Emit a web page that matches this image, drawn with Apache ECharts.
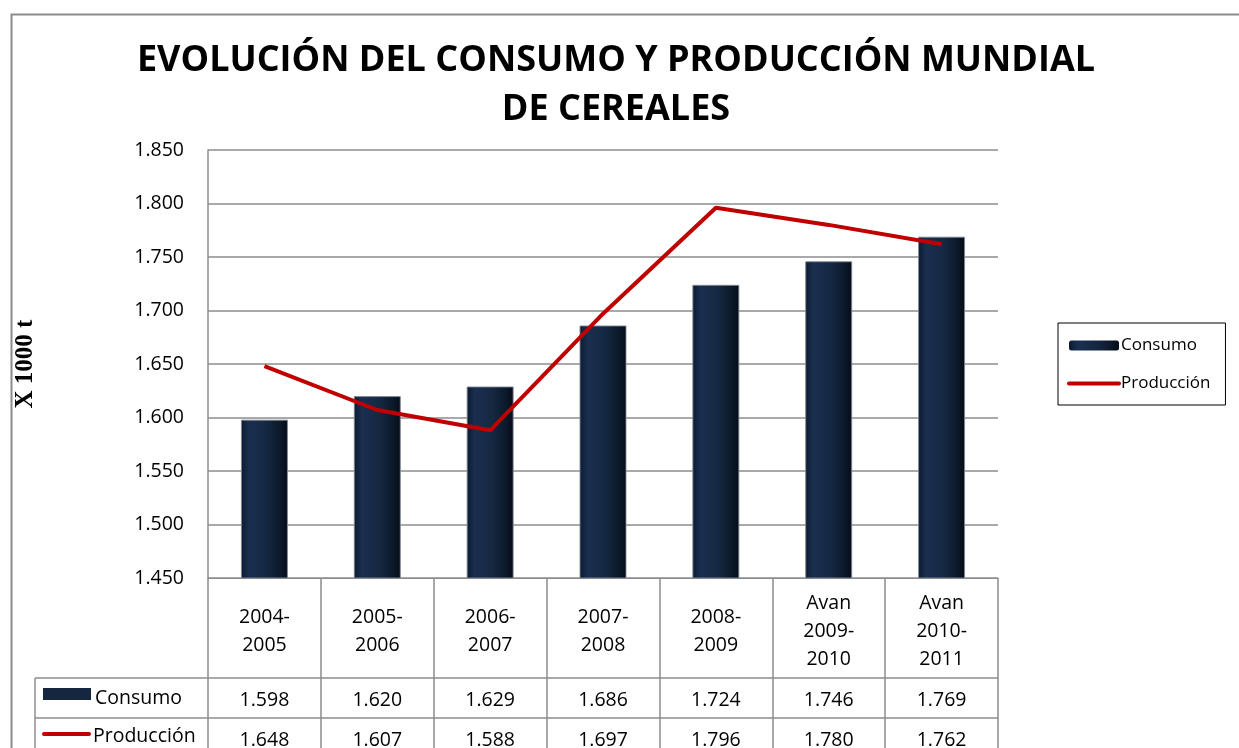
<!DOCTYPE html>
<html>
<head>
<meta charset="utf-8">
<script src="https://cdn.jsdelivr.net/npm/echarts@6/dist/echarts.min.js"></script>
<style>
  html, body { margin: 0; padding: 0; background: #fff; }
  #chart { width: 1239px; height: 748px; }
</style>
</head>
<body>
<div id="chart"></div>
<script>
// data
const categories = ['2004-\n2005', '2005-\n2006', '2006-\n2007', '2007-\n2008', '2008-\n2009', 'Avan\n2009-\n2010', 'Avan\n2010-\n2011']
const consumo = [1598, 1620, 1629, 1686, 1724, 1746, 1769]
const produccion = [1648, 1607, 1588, 1697, 1796, 1780, 1762]
const yTicks = { min: 1450, max: 1850, interval: 50 }

const GRID = { left: 208, top: 150, right: 998, bottom: 578 }
const TABLE_LEFT = 35
const FONT = "'Open Sans', 'Noto Sans', sans-serif"
const GRAY = '#8c8c8c'
const TXT = 19.5

function fmt(v) {
  // 1598 -> "1.598"
  return (v / 1000).toFixed(3)
}

const chart = echarts.init(document.getElementById('chart'))

const barColor = new echarts.graphic.LinearGradient(0, 0, 1, 0, [
  { offset: 0, color: '#0c1a30' },
  { offset: 0.18, color: '#1a2f50' },
  { offset: 0.55, color: '#152842' },
  { offset: 0.85, color: '#0b1829' },
  { offset: 1, color: '#050b15' }
])

// value axes for the two table rows (labels only)
function valueRowAxis(values, offset) {
  return {
    type: 'category',
    data: categories,
    position: 'bottom',
    offset: offset,
    axisLine: { show: false },
    axisTick: { show: false },
    axisLabel: {
      interval: 0,
      margin: 22,
      verticalAlign: 'middle',
      fontFamily: FONT,
      fontSize: TXT,
      color: '#000',
      formatter: (val, idx) => fmt(values[idx])
    }
  }
}

const rowTop1 = GRID.bottom + 100
const rowTop2 = rowTop1 + 40
const rowTop3 = rowTop2 + 40

chart.setOption({
  animation: false,
  title: {
    text: 'EVOLUCIÓN DEL CONSUMO Y PRODUCCIÓN MUNDIAL\nDE CEREALES',
    left: 611,
    top: 31,
    textAlign: 'center',
    textStyle: {
      fontFamily: FONT,
      fontWeight: 'bold',
      fontSize: 36,
      lineHeight: 49,
      color: '#000'
    }
  },
  legend: {
    orient: 'vertical',
    left: 1058,
    top: 323,
    padding: [14, 15, 13, 9],
    itemGap: 21,
    itemWidth: 50,
    itemHeight: 10,
    borderColor: '#000',
    borderWidth: 1,
    textStyle: { fontFamily: FONT, fontSize: 17, color: '#000', padding: [0, 0, 0, -3] },
    data: [
      { name: 'Consumo', itemStyle: { borderWidth: 0 } },
      { name: 'Producción', itemStyle: { opacity: 0 }, lineStyle: { width: 4, cap: 'round' } }
    ]
  },
  grid: {
    left: GRID.left,
    top: GRID.top,
    right: 1239 - GRID.right,
    bottom: 748 - GRID.bottom,
    containLabel: false,
    outerBoundsMode: 'none'
  },
  xAxis: [{
    type: 'category',
    data: categories,
    axisLine: { show: true, lineStyle: { color: GRAY, width: 1 } },
    axisTick: { show: true, alignWithLabel: false, interval: 0, length: 175, lineStyle: { color: GRAY, width: 1.5 } },
    axisLabel: {
      interval: 0,
      margin: 53,
      verticalAlign: 'middle',
      lineHeight: 28,
      fontFamily: FONT,
      fontSize: TXT,
      color: '#000'
    }
  },
    valueRowAxis(consumo, 100),
    valueRowAxis(produccion, 140)
  ],
  yAxis: {
    type: 'value',
    min: yTicks.min,
    max: yTicks.max,
    interval: yTicks.interval,
    name: 'X 1000 t',
    nameLocation: 'middle',
    nameGap: 170,
    nameTextStyle: {
      fontFamily: "'Liberation Serif', 'DejaVu Serif', serif",
      fontWeight: 'bold',
      fontSize: 25,
      color: '#000'
    },
    axisLine: { show: true, lineStyle: { color: GRAY, width: 1.5 } },
    axisTick: { show: false },
    axisLabel: {
      margin: 24,
      fontFamily: FONT,
      fontSize: TXT,
      color: '#000',
      formatter: fmt
    },
    splitLine: { lineStyle: { color: GRAY, width: 1.5 } }
  },
  series: [{
    name: 'Consumo',
    type: 'bar',
    data: consumo,
    barWidth: 47,
    itemStyle: {
      color: barColor,
      borderColor: 'rgba(130,138,150,0.9)',
      borderWidth: 1
    },
    z: 2
  }, {
    name: 'Producción',
    type: 'line',
    data: produccion,
    symbol: 'none',
    lineStyle: { color: '#c00000', width: 4 },
    itemStyle: { color: '#c00000' },
    z: 3
  }],
  graphic: [
    // outer chart frame
    { type: 'rect', left: 9, top: 12, shape: { width: 1300, height: 800 },
      style: { fill: 'none', stroke: GRAY, lineWidth: 2 }, silent: true },
    // table horizontal rules
    { type: 'line', shape: { x1: TABLE_LEFT, y1: rowTop1, x2: GRID.right, y2: rowTop1 },
      style: { stroke: GRAY, lineWidth: 1.5 } },
    { type: 'line', shape: { x1: TABLE_LEFT, y1: rowTop2, x2: GRID.right, y2: rowTop2 },
      style: { stroke: GRAY, lineWidth: 1.5 } },
    { type: 'line', shape: { x1: TABLE_LEFT, y1: rowTop3, x2: GRID.right, y2: rowTop3 },
      style: { stroke: GRAY, lineWidth: 1.5 } },
    { type: 'line', shape: { x1: TABLE_LEFT, y1: rowTop1, x2: TABLE_LEFT, y2: 760 },
      style: { stroke: GRAY, lineWidth: 1.5 } },
    // row headers
    { type: 'rect', shape: { x: 43, y: rowTop1 + 10, width: 48, height: 12 },
      style: { fill: '#142640' } },
    { type: 'text', x: 95, y: rowTop1 + 20,
      style: { text: 'Consumo', fontFamily: FONT, fontSize: TXT, fill: '#000', verticalAlign: 'middle' } },
    { type: 'line', shape: { x1: 44, y1: rowTop2 + 16, x2: 89, y2: rowTop2 + 16 },
      style: { stroke: '#c00000', lineWidth: 4, lineCap: 'round' } },
    { type: 'text', x: 93, y: rowTop2 + 18,
      style: { text: 'Producción', fontFamily: FONT, fontSize: TXT, fill: '#000', verticalAlign: 'middle' } }
  ]
})
</script>
</body>
</html>
